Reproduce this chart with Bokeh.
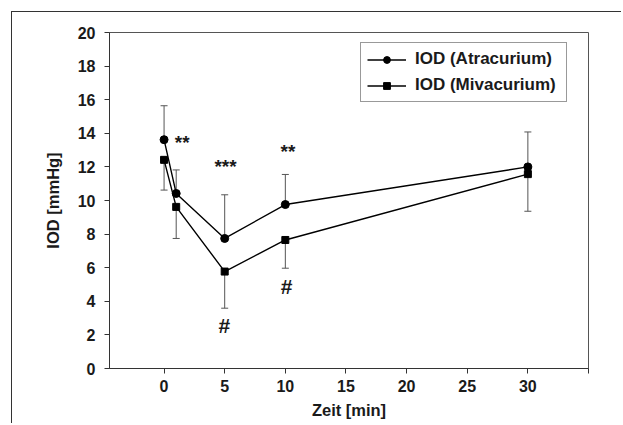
from bokeh.plotting import figure
from bokeh.models import (ColumnDataSource, Whisker, TeeHead, Legend, LegendItem,
                          FixedTicker, Range1d)
from bokeh.core.properties import value
from bokeh.embed import file_html
from bokeh.resources import INLINE

# ---- data ----
time = [0, 1, 5, 10, 30]
atra_mean = [13.62, 10.42, 7.74, 9.76, 12.0]
atra_upper = [15.64, 11.82, 10.34, 11.55, 14.08]
miva_mean = [12.42, 9.62, 5.77, 7.65, 11.57]
miva_lower = [10.62, 7.74, 3.59, 5.97, 9.36]

star_x = [1.5, 5.07, 10.22]
star_y = [13.55, 12.14, 13.05]
star_text = ["**", "***", "**"]

hash_x = [4.98, 10.1]
hash_y = [2.58, 4.9]
hash_text = ["#", "#"]

x_ticks = [0, 5, 10, 15, 20, 25, 30, 35]
y_ticks = [0, 2, 4, 6, 8, 10, 12, 14, 16, 18, 20]

FONT = "Liberation Sans"
INK = "#1a1a1a"

p = figure(width=610, height=412, output_backend="svg", toolbar_location=None,
           x_range=Range1d(-4.5, 35), y_range=Range1d(0, 20),
           min_border_left=97, min_border_right=34, min_border_top=20,
           min_border_bottom=56)
p.styles = {"border-top": "1px solid #333", "border-left": "1px solid #333",
            "margin-top": "11px", "margin-left": "11px"}

p.xgrid.visible = False
p.ygrid.visible = False
p.outline_line_color = "#555555"
p.outline_line_width = 1

for ax in (p.xaxis[0], p.yaxis[0]):
    ax.axis_line_color = "#333333"
    ax.major_tick_line_color = "#333333"
    ax.major_tick_out = 5
    ax.major_tick_in = 0
    ax.minor_tick_line_color = None
    ax.major_label_text_font = FONT
    ax.major_label_text_font_style = "bold"
    ax.major_label_text_font_size = "16px"
    ax.major_label_text_color = INK
    ax.axis_label_text_font = FONT
    ax.axis_label_text_font_style = "bold"
    ax.axis_label_text_font_size = "16.5px"
    ax.axis_label_text_color = INK

p.xaxis.ticker = FixedTicker(ticks=x_ticks)
p.xaxis.major_label_overrides = {35: ""}
p.yaxis.ticker = FixedTicker(ticks=y_ticks)
p.xaxis.axis_label = "Zeit [min]"
p.yaxis.axis_label = "IOD [mmHg]"
p.xaxis.major_label_standoff = 6
p.yaxis.major_label_standoff = 9
p.xaxis.axis_label_standoff = 6
p.yaxis.axis_label_standoff = 13

src_a = ColumnDataSource(dict(x=time, m=atra_mean, up=atra_upper))
src_m = ColumnDataSource(dict(x=time, m=miva_mean, lo=miva_lower))

p.add_layout(Whisker(source=src_a, base="x", lower="m", upper="up",
                     line_color="#555555", line_width=1, lower_head=None,
                     upper_head=TeeHead(size=7, line_color="#555555", line_width=1)))
p.add_layout(Whisker(source=src_m, base="x", lower="lo", upper="m",
                     line_color="#555555", line_width=1, upper_head=None,
                     lower_head=TeeHead(size=7, line_color="#555555", line_width=1)))

la = p.line("x", "m", source=src_a, line_color="black", line_width=1.4)
sa = p.scatter("x", "m", source=src_a, marker="circle", size=8,
               fill_color="black", line_color="black")
lm = p.line("x", "m", source=src_m, line_color="black", line_width=1.4)
sm = p.scatter("x", "m", source=src_m, marker="square", size=7,
               fill_color="black", line_color="black")

p.text(x=star_x, y=star_y, text=star_text, text_font=value(FONT),
       text_font_style="bold", text_font_size="19px", text_color=INK,
       text_align="center", text_baseline="middle", y_offset=2)
p.text(x=hash_x, y=hash_y, text=hash_text, text_font=value(FONT),
       text_font_style="bold", text_font_size="21px", text_color=INK,
       text_align="center", text_baseline="middle", y_offset=0)

legend = Legend(items=[LegendItem(label="IOD (Atracurium)", renderers=[la, sa]),
                       LegendItem(label="IOD (Mivacurium)", renderers=[lm, sm])],
                location=(251, 266))
legend.border_line_color = "#333333"
legend.border_line_width = 1
legend.background_fill_alpha = 1
legend.label_text_font = FONT
legend.label_text_font_style = "bold"
legend.label_text_font_size = "17px"
legend.label_text_color = INK
legend.glyph_width = 39
legend.glyph_height = 17
legend.label_height = 17
legend.label_width = 145
legend.label_standoff = 9
legend.padding = 6
legend.spacing = 6
legend.margin = 0
p.add_layout(legend)

open("out.html", "w").write(file_html(p, INLINE))
